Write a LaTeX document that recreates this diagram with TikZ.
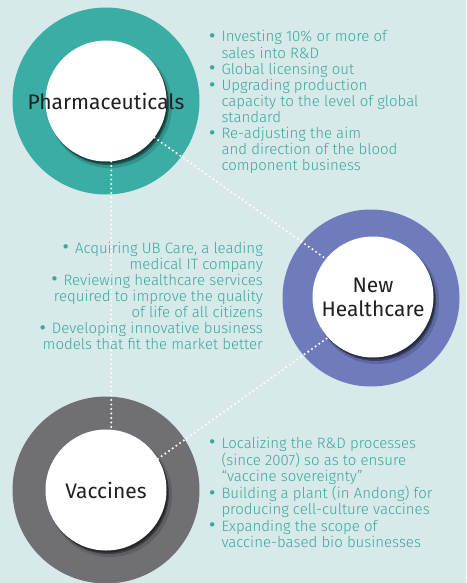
\documentclass[tikz,border=0pt]{standalone}
\usepackage{fontspec}
\setmainfont{Fira Sans}
\newfontfamily\bodyfont{Fira Sans Light}
\usetikzlibrary{calc}
\definecolor{bg}{HTML}{D8E9E9}
\definecolor{tealring}{HTML}{3AADA5}
\definecolor{purplering}{HTML}{6F7BBD}
\definecolor{grayring}{HTML}{707074}
\definecolor{bodytext}{HTML}{3AA89C}
\definecolor{titletext}{HTML}{231F20}
\newcommand{\bul}{\raisebox{-0.8pt}{\scalebox{1.3}{\rmfamily\textbullet}}}
\tikzset{
  ringdisk/.style={circle, inner sep=0pt, minimum size=#1},
  coredisk/.style={circle, fill=white, inner sep=0pt, minimum size=121pt},
  titletag/.style={inner sep=0pt, align=center, text=titletext, font=\fontsize{21}{24}\selectfont},
  bulletblock/.style={inner sep=0pt, text=bodytext, font=\bodyfont\fontsize{15}{16}\selectfont},
  dotline/.style={white, line width=2.3pt, dash pattern=on 0pt off 4.5pt, line cap=round},
}
\newcommand{\coreshadow}[1]{%
  \fill[black, opacity=0.15] ($(#1)+(4,5)$) circle (62pt);
  \fill[black, opacity=0.35] ($(#1)+(2.5,3.5)$) circle (60.5pt);
  \fill[black, opacity=0.35] ($(#1)+(1.5,2)$) circle (60.5pt);
}
\begin{document}
\begin{tikzpicture}[x=1pt,y=-1pt]
\useasboundingbox (0,0) rectangle (466,583);
\fill[bg] (0,0) rectangle (466,583);

% rings
\node[ringdisk=187pt, fill=tealring] (phring) at (106,101) {};
\node[ringdisk=177pt, fill=purplering] (nhring) at (371,298) {};
\node[ringdisk=187pt, fill=grayring] (varing) at (106,490) {};

% shadows
\coreshadow{106,101}
\coreshadow{373,297}
\coreshadow{106,490}

% cores
\node[coredisk] (ph) at (106,101) {};
\node[coredisk] (nh) at (373,297) {};
\node[coredisk] (va) at (106,490) {};
\node[titletag] (phlabel) at (ph.center) {Pharmaceuticals};
\node[titletag] (nhlabel) at (nh.center) {New\\Healthcare};
\node[titletag] (valabel) at (va.center) {Vaccines};

% connectors
\draw[dotline] (ph.-85) -- (va.85);
\draw[dotline] (ph.-37) -- (nh.141);
\draw[dotline] (va.31) -- (nh.222);

% texts
\node[bulletblock, anchor=base west] (t1) at (209,42) {%
\begin{tabular}[t]{@{}l@{\hspace{6pt}}l@{}}
\bul & Investing 10\% or more of\\
 & sales into R\&D\\
\bul & Global licensing out\\
\bul & Upgrading production\\
 & capacity to the level of global\\
 & standard\\
\bul & Re-adjusting the aim\\
 & and direction of the blood\\
 & component business
\end{tabular}};

\node[bulletblock, anchor=base east] (t2) at (263,253) {%
\begin{tabular}[t]{@{}r@{}}
\bul\hspace{6pt}Acquiring UB Care, a leading\\
medical IT company\\
\bul\hspace{6pt}Reviewing healthcare services\\
required to improve the quality\\
of life of all citizens\\
\bul\hspace{6pt}Developing innovative business\\
models that fit the market better
\end{tabular}};

\node[bulletblock, anchor=base west] (t3) at (209,448) {%
\begin{tabular}[t]{@{}l@{\hspace{6pt}}l@{}}
\bul & Localizing the R\&D processes\\
 & (since 2007) so as to ensure\\
 & “vaccine sovereignty”\\
\bul & Building a plant (in Andong) for\\
 & producing cell-culture vaccines\\
\bul & Expanding the scope of\\
 & vaccine-based bio businesses
\end{tabular}};
\end{tikzpicture}
\end{document}
